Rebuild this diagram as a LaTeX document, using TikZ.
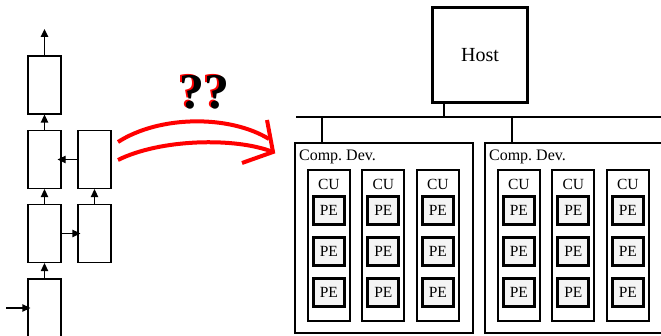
\documentclass[tikz,border=0pt]{standalone}
\usepackage{fontspec}
\setmainfont{Liberation Serif}
\usetikzlibrary{arrows.meta,positioning,calc}
\definecolor{pegray}{RGB}{244,244,244}
\newcommand\redshade[1]{\rlap{\color{red}\kern-1.6pt\raisebox{0.6pt}{#1}}#1}

\begin{document}
\begin{tikzpicture}[
  x=1pt, y=-1pt, >={Triangle[length=8pt,width=7.5pt]},
  cell/.style  ={draw, line width=1.3pt, minimum width=33pt,
                 minimum height=58pt, inner sep=0pt},
  flow/.style  ={->, line width=1.3pt},
  hostbox/.style={draw, line width=3pt, minimum width=95pt, minimum height=95pt,
                 font=\fontsize{20}{24}\selectfont},
  device/.style={draw, line width=2.2pt, minimum width=178pt,
                 minimum height=190pt, inner sep=0pt},
  cu/.style    ={draw, line width=2pt, minimum width=42pt,
                 minimum height=151pt, inner sep=0pt},
  pe/.style    ={draw, fill=pegray, line width=3pt, minimum width=31pt,
                 minimum height=28pt, inner sep=0pt,
                 font=\fontsize{15.5}{18}\selectfont},
  lbl/.style   ={inner sep=0pt, font=\fontsize{15.5}{18}\selectfont},
  bus/.style   ={line width=2.5pt},
  redarc/.style={draw=red, line width=4pt},
  qq/.style    ={inner sep=0pt, font=\fontsize{50}{50}\selectfont\bfseries},
]
\useasboundingbox (0,0) rectangle (661,336);
\clip (0,0) rectangle (661,336);

%-- LEFT: unrolled cells
\node[cell] (l1) at (44.5,308) {};
\node[cell] (l2) at (44.5,233.5) {};
\node[cell] (l3) at (44.5,159.5) {};
\node[cell] (l4) at (44.5,85) {};
\node[cell] (r1) at (94.5,233.5) {};
\node[cell] (r2) at (94.5,159.5) {};

\coordinate (xin)  at (6,308);
\coordinate (yout) at (44.5,29);

\draw[flow, shorten >=-3pt] (xin) -- (l1.west);
\draw[flow] (l1) -- (l2);
\draw[flow] (l2) -- (l3);
\draw[flow] (l3) -- (l4);
\draw[flow] (l4) -- (yout);
\draw[flow, shorten >=-3pt] (l2) -- (r1);
\draw[flow] (r1) -- (r2);
\draw[flow, shorten >=-4pt] (r2) -- (l3);

%-- Arrow
\coordinate (ra)    at (118,142);
\coordinate (rb)    at (118,160);
\coordinate (rend)  at (269,139);
\coordinate (rtip)  at (273,152);
\coordinate (rwing1) at (267,120);
\coordinate (rwing2) at (242,163);
\draw[redarc] (ra) .. controls (160,115) and (230,115) .. (rend);
\draw[redarc] (rb) .. controls (160,139) and (235,137) .. (rtip);
\draw[redarc, line join=miter] (rwing1) -- (rtip) -- (rwing2);

\node[qq] (ask) at (204,92) {\redshade{??}};

%-- RIGHT: host and devices
\node[hostbox] (host) at (480,55) {Host};

\coordinate (busl) at (296,117);
\coordinate (busr) at (665,117);
\draw[bus] (busl) -- (busr);
\draw[bus] (host.south west) ++(13,0) coordinate (hstem) -- (hstem |- busl);

\foreach \d/\dx in {1/384,2/574}{
  \node[device] (dev\d) at (\dx,238) {};
  \draw[bus] (dev\d.north west) ++(28,0) coordinate (drop\d) -- (drop\d |- busl);
  \node[anchor=base west, inner sep=0pt, font=\fontsize{16}{19}\selectfont]
    (devlbl\d) at ($(dev\d.north west)+(5,19)$) {Comp.\ Dev.};
  \foreach \c in {1,2,3}{
    \node[cu] (cu\d\c) at ($(dev\d.north west)+(-19.5+54.5*\c,103.5)$) {};
    \node[lbl, anchor=base] (cul\d\c) at ($(cu\d\c.north)+(0,21)$) {CU};
    \foreach \p in {1,2,3}
      \node[pe] (pe\d\c\p) at ($(cu\d\c.north)+(0,1+41*\p)$) {PE};
  }
}

\end{tikzpicture}
\end{document}
